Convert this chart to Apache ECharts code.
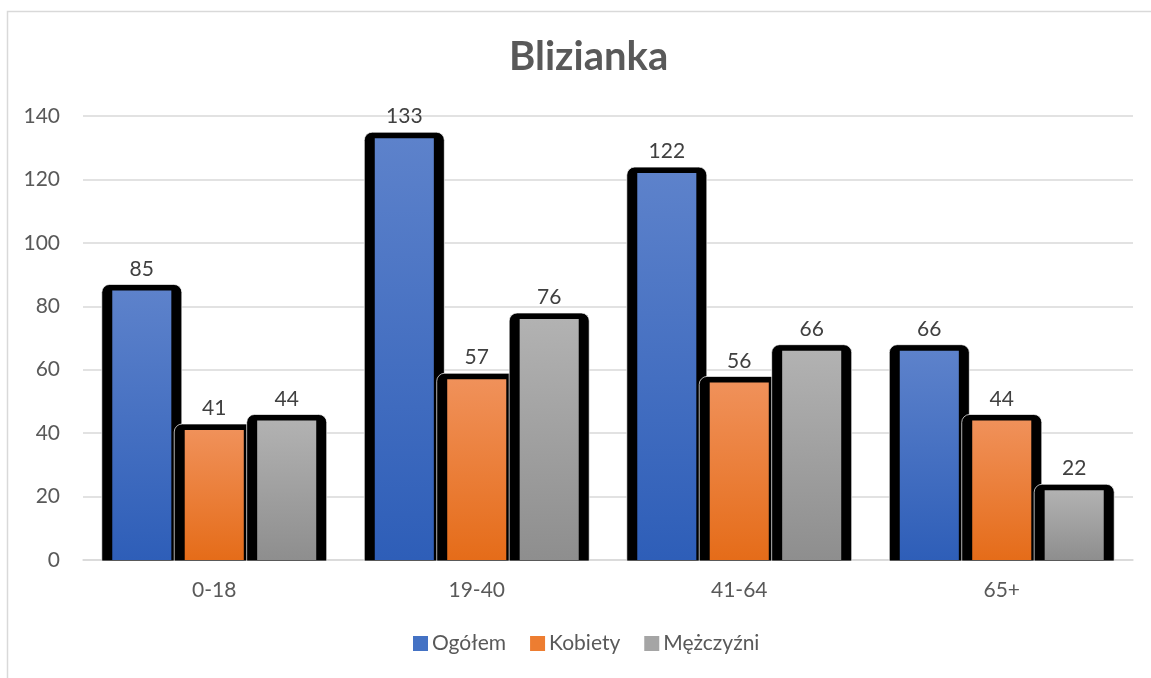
<!DOCTYPE html>
<html>
<head>
<meta charset="utf-8">
<script src="https://cdn.jsdelivr.net/npm/echarts@6/dist/echarts.min.js"></script>
<style>html,body{margin:0;padding:0;background:#fff;}#c{width:1151px;height:678px;}</style>
</head>
<body>
<div id="c"></div>
<script>
const categories = ['0-18', '19-40', '41-64', '65+'];
const seriesNames = ['Ogółem', 'Kobiety', 'Mężczyźni'];
const ogolem = [85, 133, 122, 66];
const kobiety = [41, 57, 56, 44];
const mezczyzni = [44, 76, 66, 22];
const yTicks = [0, 20, 40, 60, 80, 100, 120, 140];

const FONT = 'Lato, "Open Sans", sans-serif';
const solid = ['#4472C4', '#ED7D31', '#A5A5A5'];
const grads = [
  ['#5D82CB', '#2E5EB8'],
  ['#F0915A', '#E56C19'],
  ['#B2B2B2', '#8E8E8E']
];
const offsets = [-0.276, 0, 0.276];

function makeRender(si) {
  return function (params, api) {
    const ci = api.value(0), v = api.value(1);
    const catW = api.size([1, 0])[0];
    const base = api.coord([ci, 0]);
    const top = api.coord([ci, v]);
    const cx = base[0] + offsets[si] * catW;
    const innerW = 0.225 * catW;
    const sideB = 0.04 * catW;
    const topB = 6;
    return {
      type: 'group',
      children: [
        {
          type: 'rect',
          shape: { x: cx - innerW / 2 - sideB, y: top[1] - topB, width: innerW + 2 * sideB, height: base[1] - top[1] + topB + 1, r: [8, 8, 0, 0] },
          style: { fill: '#000', stroke: 'rgba(255,255,255,0.7)', lineWidth: 1 }
        },
        {
          type: 'rect',
          shape: { x: cx - innerW / 2, y: top[1], width: innerW, height: base[1] - top[1] },
          style: {
            fill: new echarts.graphic.LinearGradient(0, 0, 0, 1, [
              { offset: 0, color: grads[si][0] },
              { offset: 1, color: grads[si][1] }
            ])
          }
        },
        {
          type: 'text',
          style: {
            text: String(v), x: cx, y: top[1] - topB - 5,
            align: 'center', verticalAlign: 'bottom',
            fill: '#404040', font: '21px ' + FONT
          }
        }
      ]
    };
  };
}

const dataSets = [ogolem, kobiety, mezczyzni];
const chart = echarts.init(document.getElementById('c'));
chart.setOption({
  animation: false,
  backgroundColor: '#fff',
  graphic: [{
    type: 'rect', shape: { x: 7.5, y: 11.5, width: 1160, height: 700 },
    style: { fill: 'none', stroke: '#D9D9D9', lineWidth: 1.5 }, z: -1
  }],
  title: {
    text: 'Blizianka', left: 504, top: 32,
    textStyle: { fontFamily: FONT, fontSize: 40, fontWeight: 'bold', color: '#595959' }
  },
  legend: {
    bottom: 19, left: 408, itemWidth: 15, itemHeight: 15, itemGap: 24,
    icon: 'rect',
    textStyle: { fontFamily: FONT, fontSize: 21, color: '#595959', padding: [0, 0, 0, -1] },
    data: seriesNames
  },
  grid: { left: 83, right: 18, top: 116, bottom: 118 },
  xAxis: {
    type: 'category', data: categories,
    axisTick: { show: false },
    axisLine: { lineStyle: { color: '#D9D9D9', width: 1.5 } },
    axisLabel: { color: '#595959', fontFamily: FONT, fontSize: 21, margin: 20 }
  },
  yAxis: {
    type: 'value', min: yTicks[0], max: yTicks[yTicks.length - 1], interval: 20,
    axisLine: { show: false }, axisTick: { show: false },
    splitLine: { lineStyle: { color: '#D9D9D9', width: 1.5 } },
    axisLabel: { color: '#595959', fontFamily: FONT, fontSize: 21, margin: 23 }
  },
  series: seriesNames.map((name, si) => ({
    name: name,
    type: 'custom',
    itemStyle: { color: solid[si] },
    renderItem: makeRender(si),
    encode: { x: 0, y: 1 },
    data: dataSets[si].map((v, i) => [i, v]),
    z: 2 + si
  }))
});
</script>
</body>
</html>
